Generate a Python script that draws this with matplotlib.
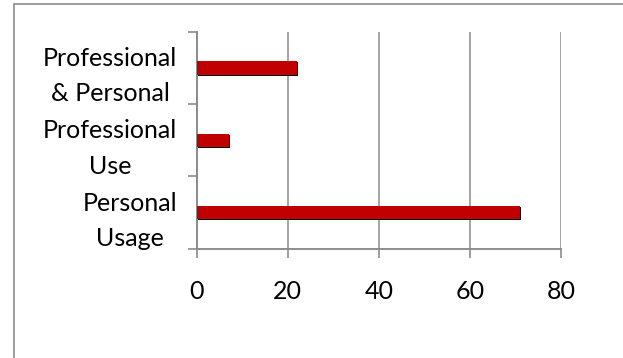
import matplotlib
matplotlib.use("Agg")
import matplotlib.pyplot as plt
import matplotlib.transforms as mtransforms
from matplotlib.patches import Rectangle

categories = ["Personal\nUsage", "Professional\nUse", "Professional\n& Personal"]
values = [71, 7, 22]
x_ticks = [0, 20, 40, 60, 80]

plt.rcParams["font.family"] = ["Lato", "DejaVu Sans"]

fig = plt.figure(figsize=(6.23, 3.58), dpi=100)
ax = fig.add_axes([0.3157, 0.3053, 0.5848, 0.6062])

# outer chart-area frame (right/bottom run off the canvas)
fig.patches.append(Rectangle((14 / 623, -0.1), 1.2, 1 - 4 / 358 + 0.1,
                             transform=fig.transFigure, fill=False,
                             edgecolor="#8c8c8c", linewidth=1.2))

grey = "#8c8c8c"
pos = list(range(len(categories)))
shadow = mtransforms.offset_copy(ax.transData, fig=fig, x=1.2, y=-1.2, units="dots")
ax.barh(pos, values, height=0.184, color="black", transform=shadow, zorder=2)
ax.barh(pos, values, height=0.184, color="#C00000", zorder=3)

ax.set_xlim(0, 80)
ax.set_ylim(-0.5, len(categories) - 0.5)
ax.set_xticks(x_ticks)
ax.set_yticks([p - 0.5 for p in pos] + [len(categories) - 0.5])
ax.set_yticklabels([])
ax.set_yticks(pos, minor=True)
ax.set_yticklabels(categories, minor=True, ha="right", multialignment="center",
                   fontsize=18, linespacing=1.65)
ax.tick_params(axis="y", which="minor", length=0, pad=14)
ax.tick_params(axis="y", which="major", length=6.5, width=1.2, color=grey)
ax.tick_params(axis="x", length=6.5, width=1.2, color=grey, labelsize=18, pad=16)

ax.grid(axis="x", color=grey, linewidth=1.1, zorder=0)
for side in ("top", "right"):
    ax.spines[side].set_visible(False)
for side in ("left", "bottom"):
    ax.spines[side].set_color(grey)
    ax.spines[side].set_linewidth(1.4)

fig.savefig("out.png", dpi=100)
